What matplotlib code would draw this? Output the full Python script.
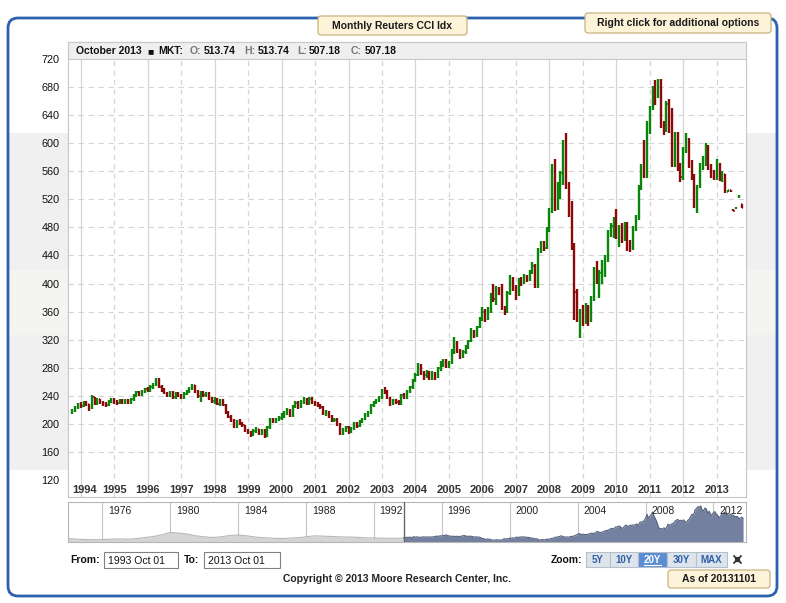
import matplotlib
matplotlib.use('Agg')
import matplotlib.pyplot as plt
import matplotlib.dates as mdates
from matplotlib.patches import FancyBboxPatch, Rectangle
from datetime import datetime, timedelta
import numpy as np
import pandas as pd

plt.rcParams['font.family'] = ['Liberation Sans', 'DejaVu Sans']

# monthly Reuters CCI bars, Oct 1993 - Oct 2013
close_1993 = [218, 223, 228]
close_1994 = [226, 230, 228, 222, 238, 229, 235, 231, 228, 227, 232, 235]
close_1995 = [231, 230, 234, 231, 234, 230, 235, 240, 245, 242, 246, 249]
close_1996 = [248, 253, 256, 264, 253, 249, 244, 241, 245, 238, 244, 241]
close_1997 = [238, 243, 246, 250, 255, 246, 240, 245, 241, 244, 236, 232]
close_1998 = [236, 229, 233, 227, 216, 210, 206, 196, 204, 201, 198, 190]
close_1999 = [188, 184, 190, 192, 186, 191, 183, 195, 207, 203, 206, 209]
close_2000 = [212, 216, 219, 212, 225, 230, 224, 232, 235, 229, 236, 230]
close_2001 = [228, 227, 224, 214, 217, 210, 205, 206, 199, 186, 192, 195]
close_2002 = [189, 193, 200, 197, 203, 207, 213, 216, 227, 231, 233, 238]
close_2003 = [248, 246, 237, 229, 234, 231, 229, 241, 238, 246, 252, 262]
close_2004 = [270, 284, 273, 269, 274, 266, 272, 267, 279, 284, 290, 283]
close_2005 = [287, 303, 315, 304, 297, 303, 309, 318, 329, 326, 338, 350]
close_2006 = [360, 350, 362, 382, 378, 392, 388, 365, 360, 386, 408, 395]
close_2007 = [385, 405, 402, 410, 406, 416, 425, 397, 448, 456, 451, 477]
close_2008 = [503, 567, 508, 540, 557, 600, 541, 500, 452, 388, 350, 358]
close_2009 = [345, 368, 348, 378, 420, 405, 415, 430, 437, 470, 482, 489]
close_2010 = [466, 480, 462, 485, 455, 450, 478, 494, 537, 567, 553, 628]
close_2011 = [650, 678, 668, 690, 627, 620, 656, 645, 570, 612, 565, 552]
close_2012 = [590, 605, 570, 552, 510, 538, 568, 578, 596, 565, 558, 552]
close_2013 = [570, 550, 556, 531, 533, 532, 504, 508, 525, 507.18]

high_1993 = [221, 225, 230]
high_1994 = [231, 232, 233, 229, 241, 239, 237, 236, 233, 231, 234, 237]
high_1995 = [237, 234, 236, 236, 236, 236, 237, 242, 247, 247, 248, 251]
high_1996 = [252, 255, 258, 266, 265, 255, 251, 246, 247, 247, 246, 246]
high_1997 = [243, 245, 248, 252, 257, 256, 248, 247, 247, 246, 245, 238]
high_1998 = [238, 237, 235, 235, 228, 218, 212, 207, 206, 207, 203, 199]
high_1999 = [193, 190, 192, 195, 193, 193, 193, 197, 209, 209, 208, 211]
high_2000 = [215, 219, 222, 221, 227, 233, 232, 234, 238, 237, 238, 238]
high_2001 = [233, 231, 229, 226, 220, 219, 212, 209, 208, 201, 194, 197]
high_2002 = [197, 195, 202, 203, 205, 209, 215, 219, 229, 233, 236, 240]
high_2003 = [250, 253, 248, 239, 236, 236, 234, 243, 244, 248, 254, 264]
high_2004 = [273, 287, 286, 276, 277, 276, 275, 274, 281, 289, 293, 292]
high_2005 = [290, 306, 324, 318, 306, 305, 312, 320, 337, 334, 340, 352]
high_2006 = [366, 364, 366, 386, 400, 396, 395, 400, 368, 390, 412, 410]
high_2007 = [398, 408, 410, 413, 412, 419, 430, 428, 451, 460, 460, 480]
high_2008 = [507, 570, 577, 545, 560, 604, 615, 545, 517, 458, 392, 364]
high_2009 = [369, 372, 370, 382, 423, 432, 420, 434, 440, 476, 486, 495]
high_2010 = [506, 483, 486, 488, 487, 462, 482, 498, 540, 570, 605, 631]
high_2011 = [653, 681, 690, 692, 691, 632, 660, 663, 650, 616, 616, 572]
high_2012 = [595, 614, 608, 576, 556, 541, 572, 582, 600, 598, 570, 562]
high_2013 = [577, 572, 560, 553, 534, 534, 506, 509, 526, 513.74]

low_1993 = [214, 217, 221]
low_1994 = [223, 224, 225, 219, 221, 227, 227, 229, 226, 224, 225, 230]
low_1995 = [229, 227, 228, 229, 229, 228, 228, 233, 238, 240, 240, 244]
low_1996 = [245, 246, 250, 254, 251, 246, 242, 239, 239, 236, 236, 239]
low_1997 = [236, 236, 241, 244, 248, 244, 237, 231, 239, 239, 234, 230]
low_1998 = [229, 227, 226, 225, 214, 208, 203, 194, 194, 198, 195, 188]
low_1999 = [185, 181, 182, 187, 184, 184, 180, 181, 193, 201, 201, 204]
low_2000 = [206, 209, 213, 210, 210, 223, 221, 222, 229, 227, 227, 228]
low_2001 = [225, 224, 221, 212, 211, 208, 202, 202, 197, 184, 184, 189]
low_2002 = [186, 187, 191, 194, 195, 201, 205, 210, 214, 224, 228, 231]
low_2003 = [236, 243, 235, 226, 227, 228, 227, 227, 235, 236, 244, 250]
low_2004 = [259, 268, 270, 263, 265, 263, 263, 263, 265, 276, 281, 279]
low_2005 = [280, 285, 300, 301, 293, 294, 300, 306, 316, 322, 324, 336]
low_2006 = [346, 345, 348, 358, 374, 370, 384, 362, 355, 358, 383, 390]
low_2007 = [376, 382, 396, 400, 402, 404, 414, 393, 394, 444, 446, 449]
low_2008 = [473, 500, 503, 505, 520, 540, 535, 495, 448, 348, 345, 322]
low_2009 = [340, 342, 340, 345, 375, 400, 380, 400, 410, 430, 466, 465]
low_2010 = [463, 452, 458, 460, 447, 445, 448, 475, 490, 533, 550, 550]
low_2011 = [613, 648, 655, 665, 622, 612, 616, 615, 566, 566, 560, 545]
low_2012 = [548, 586, 565, 548, 507, 500, 536, 562, 567, 562, 550, 547]
low_2013 = [548, 546, 544, 529, 530, 531, 503, 506, 522, 507.18]

# opens follow the prior close, except where the chart shows a gap
first_open = 216
open_fix = {'2013-07': 505, '2013-08': 507, '2013-09': 523, '2013-10': 513.74}

# navigator history before the selected window (half-yearly, 1974-1993)
hist_years = np.arange(1974.0, 1994.0, 0.5)
hist_values = [210, 200, 195, 192, 195, 200, 205, 200, 210, 225,
               240, 265, 300, 290, 275, 250, 235, 225, 235, 255,
               262, 250, 232, 222, 215, 210, 215, 222, 235, 250,
               245, 240, 235, 232, 228, 220, 218, 215, 212, 214]

GREEN = '#0a850a'
RED = '#8b0a0a'
GRID = '#d4d4d4'

closes = np.array(close_1993 + close_1994 + close_1995 + close_1996 + close_1997
                  + close_1998 + close_1999 + close_2000 + close_2001 + close_2002
                  + close_2003 + close_2004 + close_2005 + close_2006 + close_2007
                  + close_2008 + close_2009 + close_2010 + close_2011 + close_2012
                  + close_2013, dtype=float)
highs = np.array(high_1993 + high_1994 + high_1995 + high_1996 + high_1997
                 + high_1998 + high_1999 + high_2000 + high_2001 + high_2002
                 + high_2003 + high_2004 + high_2005 + high_2006 + high_2007
                 + high_2008 + high_2009 + high_2010 + high_2011 + high_2012
                 + high_2013, dtype=float)
lows = np.array(low_1993 + low_1994 + low_1995 + low_1996 + low_1997
                + low_1998 + low_1999 + low_2000 + low_2001 + low_2002
                + low_2003 + low_2004 + low_2005 + low_2006 + low_2007
                + low_2008 + low_2009 + low_2010 + low_2011 + low_2012
                + low_2013, dtype=float)
months = pd.date_range('1993-10-01', periods=len(closes), freq='MS')
keys = list(months.strftime('%Y-%m'))
opens = np.concatenate([[first_open], closes[:-1]])
for k, v in open_fix.items():
    opens[keys.index(k)] = v
highs = np.maximum(highs, np.maximum(opens, closes))
lows = np.minimum(lows, np.minimum(opens, closes))
xm = mdates.date2num(months.to_pydatetime())


def yr(y):
    base = datetime(int(y), 1, 1)
    return mdates.date2num(base + timedelta(days=(y - int(y)) * 365.25))


W, H = 786, 603
fig = plt.figure(figsize=(W / 100, H / 100), dpi=100)


def box(x0, y0, x1, y1):
    return [x0 / W, 1 - y1 / H, (x1 - x0) / W, (y1 - y0) / H]


# background / widget chrome in pixel coordinates
bg = fig.add_axes([0, 0, 1, 1], zorder=0)
bg.set_xlim(0, W)
bg.set_ylim(H, 0)
bg.axis('off')

bg.add_patch(Rectangle((9, 133), 767, 337, fc='#f0f0f0', ec='none'))
bg.add_patch(Rectangle((9, 270), 767, 65, fc='#f4f5f1', ec='none'))
bg.add_patch(FancyBboxPatch((8, 18), 769, 578, boxstyle='round,pad=0,rounding_size=10',
                            fc='none', ec='#2b62ad', lw=2.0))
bg.add_patch(Rectangle((68, 42), 678, 455, fc='white', ec='#c8c8c8', lw=0.8))
bg.add_patch(Rectangle((68, 42), 678, 17, fc='#efefef', ec='#c8c8c8', lw=0.8))


def button(x0, y0, x1, y1, text, fc='#fcf3d9', ec='#c9b37e', tc='#1a1a1a', size=7.5):
    bg.add_patch(FancyBboxPatch((x0, y0), x1 - x0, y1 - y0,
                                boxstyle='round,pad=0,rounding_size=3',
                                fc=fc, ec=ec, lw=0.9))
    return bg.text((x0 + x1) / 2, (y0 + y1) / 2 + 0.5, text, ha='center', va='center',
                   fontsize=size, fontweight='bold', color=tc)


button(318, 16, 467, 35, 'Monthly Reuters CCI Idx')
button(585, 13, 771, 33, 'Right click for additional options')
button(668, 570, 770, 588, 'As of 20131101')

# header line of the plot box
hdr = [(76, 'October 2013', '#111111'), (147, '\u25a0', '#111111'), (158, 'MKT:', '#111111'),
       (190, 'O:', '#777777'), (204, '513.74', '#111111'), (244, 'H:', '#777777'),
       (258, '513.74', '#111111'), (297, 'L:', '#777777'), (309, '507.18', '#111111'),
       (351, 'C:', '#777777'), (365, '507.18', '#111111')]
for hx, s, c in hdr:
    bg.text(hx, 51, s, ha='left', va='center', fontsize=7.5, fontweight='bold', color=c)

# ---- main OHLC chart ----
k = 421 / 600  # px per index point
ax = fig.add_axes(box(68, 59, 746, 497), zorder=2)
ax.set_facecolor('white')
x0 = yr(1994 - 12.7 / 33.48)
x1 = yr(1994 - 12.7 / 33.48 + 678 / 33.48)
ax.set_xlim(x0, x1)
ax.set_ylim(720 - 438 / k, 720)

for y in range(1994, 2014):
    ax.axvline(yr(y), color=GRID, lw=0.9, ls='-' if y % 2 == 0 else (0, (4, 3.5)), zorder=1)
for v in range(160, 720, 40):
    ax.axhline(v, color=GRID, lw=0.8, ls=(0, (5, 4)), zorder=1)

colors = np.where(closes >= opens, GREEN, RED)
ax.vlines(xm, lows, highs, colors=colors, lw=1.7, zorder=3)
ax.hlines(opens, xm - 12, xm, colors=colors, lw=1.1, zorder=3)
ax.hlines(closes, xm, xm + 12, colors=colors, lw=1.1, zorder=3)

ax.set_yticks(range(120, 721, 40))
ax.tick_params(axis='y', length=0, pad=6, labelsize=7.8, labelcolor='#111111')
ax.set_xticks([])
for s in ax.spines.values():
    s.set_color('#c8c8c8')
    s.set_linewidth(0.8)

for y in range(1994, 2014):
    if y == 1994:
        ax.text(0.007, 0.016, str(y), transform=ax.transAxes, ha='left', va='center',
                fontsize=8, fontweight='bold', color='#333333')
    else:
        ax.text(yr(y), 0.016, str(y), transform=ax.get_xaxis_transform(), ha='center',
                va='center', fontsize=8, fontweight='bold', color='#333333')

# ---- navigator ----
nav = fig.add_axes(box(68, 502, 746, 542), zorder=2)
n0 = yr(1976 - 34.5 / 16.97)
nav.set_xlim(n0, yr(1976 - 34.5 / 16.97 + 678 / 16.97))
nav.set_ylim(159, 746)
nav.set_xticks([])
nav.set_yticks([])
for s in nav.spines.values():
    s.set_color('#b5b5b5')
    s.set_linewidth(0.8)

hx = np.array([yr(v) for v in hist_years] + [xm[0]])
hv = np.array(hist_values + [closes[0]])
nav.fill_between(hx, 159, hv, color='#d4d4d4', lw=0, zorder=2)
nav.plot(hx, hv, color='#b8b8b8', lw=0.8, zorder=2)
nav.fill_between(xm, 159, closes, color='#73809f', lw=0, zorder=2)
nav.plot(xm, closes, color='#56627f', lw=0.8, zorder=2)
nav.axvline(xm[0], color='#666666', lw=1.0, zorder=3)

for y in range(1976, 2013, 4):
    nav.axvline(yr(y), color='#c4c4c4', lw=0.8, zorder=1)
    nav.text(yr(y + 0.33), 0.77, str(y), transform=nav.get_xaxis_transform(), ha='left',
             va='center', fontsize=7.5, color='#222222', zorder=4)

# ---- range inputs, zoom buttons, footer ----
bg.text(70, 560, 'From:', ha='left', va='center', fontsize=7.5, fontweight='bold', color='#111111')
bg.add_patch(Rectangle((104, 552), 74, 16, fc='white', ec='#808080', lw=0.8))
bg.text(108, 560.5, '1993 Oct 01', ha='left', va='center', fontsize=7.5, color='#111111')
bg.text(184, 560, 'To:', ha='left', va='center', fontsize=7.5, fontweight='bold', color='#111111')
bg.add_patch(Rectangle((204, 552), 76, 16, fc='white', ec='#808080', lw=0.8))
bg.text(208, 560.5, '2013 Oct 01', ha='left', va='center', fontsize=7.5, color='#111111')

bg.text(582, 560, 'Zoom:', ha='right', va='center', fontsize=7.5, fontweight='bold', color='#111111')
zoom_buttons = [('5Y', 586, 610), ('10Y', 610, 638), ('20Y', 638, 667),
                ('30Y', 667, 696), ('MAX', 696, 727)]
for lab, bx0, bx1 in zoom_buttons:
    active = lab == '20Y'
    bg.add_patch(Rectangle((bx0, 552), bx1 - bx0, 15, fc='#5b8dd3' if active else '#dde4ec',
                           ec='#b5c0cc', lw=0.8))
    bg.text((bx0 + bx1) / 2, 560, lab, ha='center', va='center', fontsize=7, fontweight='bold',
            color='white' if active else '#2f5fa6')
    if active:
        bg.plot([bx0 + 6, bx1 - 6], [565, 565], color='white', lw=0.8)

cx, cy = 737.5, 559.5
for dx, dy in [(-1, -1), (1, -1), (-1, 1), (1, 1)]:
    bg.annotate('', xy=(cx + 5.5 * dx, cy + 5.5 * dy), xytext=(cx + 1.5 * dx, cy + 1.5 * dy),
                arrowprops=dict(arrowstyle='-|>', color='#333333', lw=1.0, mutation_scale=5))

bg.text(397, 579, 'Copyright \u00a9 2013 Moore Research Center, Inc.', ha='center', va='center',
        fontsize=7.5, fontweight='bold', color='#222222')

fig.savefig('out.png', dpi=100)
